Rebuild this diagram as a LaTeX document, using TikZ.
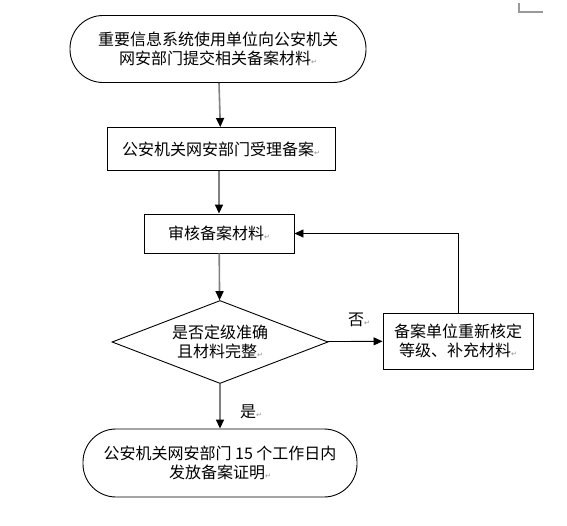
\documentclass[tikz,border=0pt]{standalone}
\usepackage{fontspec}
\usepackage{tikz}
\usetikzlibrary{%
  arrows.meta,%
  shapes.geometric%
}
\setmainfont{Noto Sans CJK SC}
\newfontfamily\retfont{DejaVu Sans}
\newcommand\retmark{{\retfont\fontsize{7}{7}\selectfont\color{black!45}↵}}
\tikzset{>={Triangle[length=9pt,width=8pt]}}
\tikzset{
  box/.style={draw,line width=0.9pt,align=center,inner sep=2pt},
  term/.style={box,rounded corners=33pt},
  check/.style={box,diamond,aspect=2.6,minimum width=216pt,minimum height=83pt,inner sep=0pt},
  flow/.style={draw=black!50,line width=1.6pt,-{Triangle[length=9pt,width=8pt,color=black]}},
  link/.style={draw=black,line width=0.9pt,->}
}

\begin{document}
\begin{tikzpicture}[x=1pt,y=-1pt,font=\fontsize{16}{19}\selectfont]
    \useasboundingbox (0,0) rectangle (567,526);
    \node[term,minimum width=296pt,minimum height=67pt] (start) at (218,49)
      {重要信息系统使用单位向公安机关\\网安部门提交相关备案材料\retmark};
    \node[box,minimum width=228pt,minimum height=43pt] (accept) at (221,149)
      {公安机关网安部门受理备案\retmark};
    \node[box,minimum width=150pt,minimum height=39pt] (review) at (219,233.5)
      {审核备案材料\retmark};
    \node[check] (check) at (220,342) {是否定级准确\\且材料完整\retmark};
    \node[box,minimum width=150pt,minimum height=56pt] (fix) at (458,341)
      {备案单位重新核定\\等级、补充材料\retmark};
    \node[term,minimum width=274pt,minimum height=68pt] (finish) at (220,463)
      {公安机关网安部门 15 个工作日内\\发放备案证明\retmark};
    \node (yes) at (251,412) {是\retmark};
    \node (no) at (359,320) {否\retmark};
    \draw[flow] (start.south -| review) -- (accept);
    \draw[flow] (accept.south -| review) -- (review);
    \draw[flow] (review) -- (check);
    \draw[flow] (check) -- (finish);
    \draw[link] (check) -- (fix);
    \draw[link] (fix.north) |- (review.east);
    % page corner mark
    \draw[black!40,line width=1.2pt] (519,3) -- (519,12) -- (543,12);
\end{tikzpicture}
\end{document}
